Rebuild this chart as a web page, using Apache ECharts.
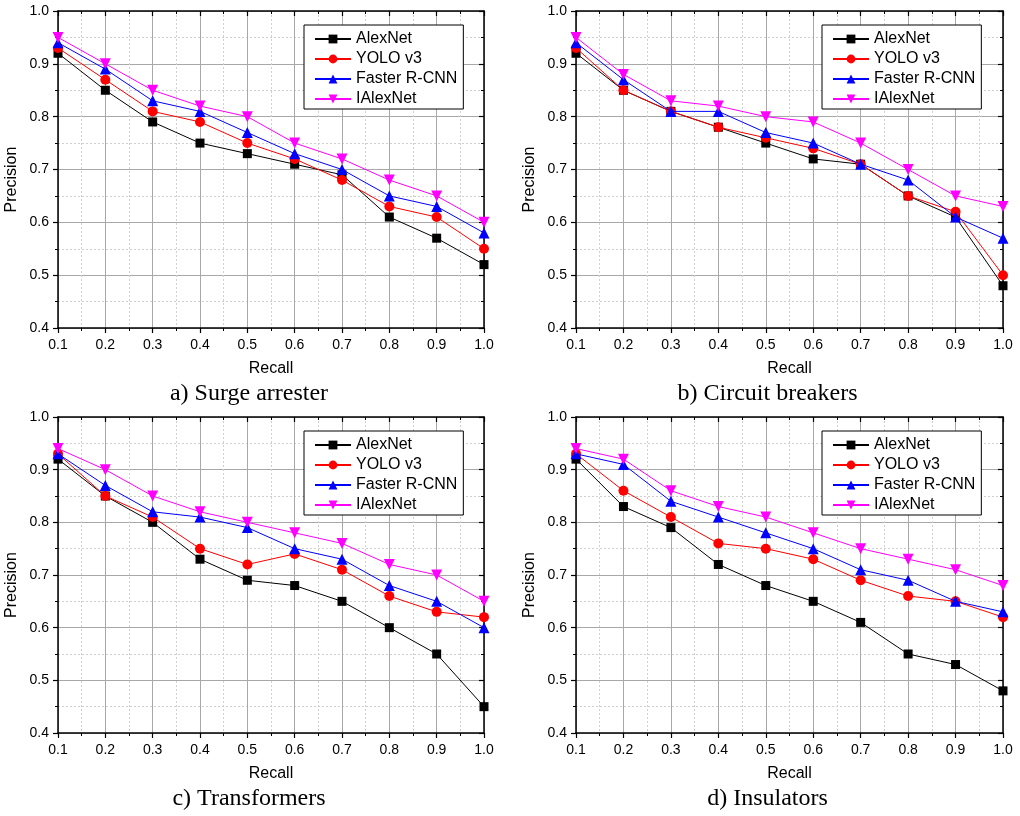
<!DOCTYPE html>
<html>
<head>
<meta charset="utf-8">
<script src="https://cdn.jsdelivr.net/npm/echarts@6/dist/echarts.min.js"></script>
<style>
  html, body { margin: 0; padding: 0; background: #fff; }
  #chart { width: 1020px; height: 816px; }
</style>
</head>
<body>
<div id="chart"></div>
<script>
// Recall levels shared by every panel
const recall = [0.1, 0.2, 0.3, 0.4, 0.5, 0.6, 0.7, 0.8, 0.9, 1.0];
const methods = ['AlexNet', 'YOLO v3', 'Faster R-CNN', 'IAlexNet'];
const panelTitles = ['a) Surge arrester', 'b) Circuit breakers', 'c) Transformers', 'd) Insulators'];

// a) Surge arrester
const surgeAlexNet = [0.92, 0.85, 0.79, 0.75, 0.73, 0.71, 0.69, 0.61, 0.57, 0.52];
const surgeYolo    = [0.93, 0.87, 0.81, 0.79, 0.75, 0.72, 0.68, 0.63, 0.61, 0.55];
const surgeFaster  = [0.94, 0.89, 0.83, 0.81, 0.77, 0.73, 0.70, 0.65, 0.63, 0.58];
const surgeIAlex   = [0.95, 0.90, 0.85, 0.82, 0.80, 0.75, 0.72, 0.68, 0.65, 0.60];

// b) Circuit breakers
const breakerAlexNet = [0.92, 0.85, 0.81, 0.78, 0.75, 0.72, 0.71, 0.65, 0.61, 0.48];
const breakerYolo    = [0.93, 0.85, 0.81, 0.78, 0.76, 0.74, 0.71, 0.65, 0.62, 0.50];
const breakerFaster  = [0.94, 0.87, 0.81, 0.81, 0.77, 0.75, 0.71, 0.68, 0.61, 0.57];
const breakerIAlex   = [0.95, 0.88, 0.83, 0.82, 0.80, 0.79, 0.75, 0.70, 0.65, 0.63];

// c) Transformers
const transAlexNet = [0.92, 0.85, 0.80, 0.73, 0.69, 0.68, 0.65, 0.60, 0.55, 0.45];
const transYolo    = [0.93, 0.85, 0.81, 0.75, 0.72, 0.74, 0.71, 0.66, 0.63, 0.62];
const transFaster  = [0.93, 0.87, 0.82, 0.81, 0.79, 0.75, 0.73, 0.68, 0.65, 0.60];
const transIAlex   = [0.94, 0.90, 0.85, 0.82, 0.80, 0.78, 0.76, 0.72, 0.70, 0.65];

// d) Insulators
const insAlexNet = [0.92, 0.83, 0.79, 0.72, 0.68, 0.65, 0.61, 0.55, 0.53, 0.48];
const insYolo    = [0.93, 0.86, 0.81, 0.76, 0.75, 0.73, 0.69, 0.66, 0.65, 0.62];
const insFaster  = [0.93, 0.91, 0.84, 0.81, 0.78, 0.75, 0.71, 0.69, 0.65, 0.63];
const insIAlex   = [0.94, 0.92, 0.86, 0.83, 0.81, 0.78, 0.75, 0.73, 0.71, 0.68];

const panelData = [
  [surgeAlexNet, surgeYolo, surgeFaster, surgeIAlex],
  [breakerAlexNet, breakerYolo, breakerFaster, breakerIAlex],
  [transAlexNet, transYolo, transFaster, transIAlex],
  [insAlexNet, insYolo, insFaster, insIAlex]
];

const colors = ['#000000', '#ff0000', '#0000ff', '#ff00ff'];
const symbols = ['rect', 'circle', 'triangle', 'path://M0,0 L10,0 L5,9 Z'];
const symbolSizes = [9, 10, 11, 11];

const rects = [
  { left: 58, top: 11, width: 426, height: 317 },
  { left: 576, top: 11, width: 427, height: 317 },
  { left: 58, top: 417, width: 426, height: 316 },
  { left: 576, top: 417, width: 427, height: 316 }
];

const sans = 'Liberation Sans, Arial, sans-serif';
const serif = 'Liberation Serif, Times New Roman, serif';
const fmt = v => (Math.round(v * 10) / 10).toFixed(1);

const grid = [], xAxis = [], yAxis = [], series = [], legend = [], graphic = [];

rects.forEach((r, i) => {
  grid.push({ left: r.left, top: r.top, width: r.width, height: r.height, containLabel: false });

  const axisLine = { show: true, onZero: false, lineStyle: { color: '#000', width: 1.5 } };
  const majorGrid = { show: true, lineStyle: { color: '#a8a8a8', width: 1, type: 'solid' } };
  const minorGrid = { show: true, lineStyle: { color: '#cfcfcf', width: 1, type: [2, 2] } };

  // bottom x axis with labels
  xAxis.push({
    type: 'value', gridIndex: i, position: 'bottom',
    min: 0.1, max: 1.0, interval: 0.1,
    name: 'Recall', nameLocation: 'middle', nameGap: 33,
    nameTextStyle: { fontFamily: sans, fontSize: 16, color: '#000' },
    axisLine,
    axisTick: { show: true, inside: false, length: 5, lineStyle: { color: '#000', width: 1.2 } },
    minorTick: { show: true, splitNumber: 2, length: 3, lineStyle: { color: '#000', width: 1 } },
    axisLabel: { fontFamily: sans, fontSize: 14, color: '#000', margin: 10, formatter: fmt },
    splitLine: majorGrid,
    minorSplitLine: minorGrid
  });
  // top frame axis
  xAxis.push({
    type: 'value', gridIndex: i, position: 'top',
    min: 0.1, max: 1.0, interval: 0.1,
    axisLine,
    axisTick: { show: true, inside: true, length: 5, lineStyle: { color: '#000', width: 1.2 } },
    minorTick: { show: true, splitNumber: 2, length: 3, lineStyle: { color: '#000', width: 1 } },
    axisLabel: { show: false },
    splitLine: { show: false }
  });
  // left y axis with labels
  yAxis.push({
    type: 'value', gridIndex: i, position: 'left',
    min: 0.4, max: 1.0, interval: 0.1,
    axisLine,
    axisTick: { show: true, inside: false, length: 5, lineStyle: { color: '#000', width: 1.2 } },
    minorTick: { show: true, splitNumber: 2, length: 3, lineStyle: { color: '#000', width: 1 } },
    axisLabel: { fontFamily: sans, fontSize: 14, color: '#000', margin: 9, formatter: fmt },
    splitLine: majorGrid,
    minorSplitLine: minorGrid
  });
  // right frame axis
  yAxis.push({
    type: 'value', gridIndex: i, position: 'right',
    min: 0.4, max: 1.0, interval: 0.1,
    axisLine,
    axisTick: { show: true, inside: true, length: 5, lineStyle: { color: '#000', width: 1.2 } },
    minorTick: { show: true, splitNumber: 2, length: 3, lineStyle: { color: '#000', width: 1 } },
    axisLabel: { show: false },
    splitLine: { show: false }
  });

  methods.forEach((m, k) => {
    series.push({
      type: 'line', name: m,
      xAxisIndex: i * 2, yAxisIndex: i * 2,
      data: recall.map((x, j) => [x, panelData[i][k][j]]),
      symbol: symbols[k], symbolSize: symbolSizes[k],
      itemStyle: { color: colors[k] },
      lineStyle: { color: colors[k], width: 1 },
      clip: true, z: 3 + k,
      animation: false
    });
  });

  legend.push({
    orient: 'vertical',
    left: r.left + 246, top: r.top + 14,
    width: 159,
    padding: [5, 6, 1, 10],
    itemGap: 2, itemWidth: 36, itemHeight: 11,
    borderColor: '#000', borderWidth: 1, backgroundColor: '#fff',
    textStyle: { fontFamily: sans, fontSize: 16, lineHeight: 18, color: '#000' },
    data: methods
  });

  // y axis title, placed by hand so it can sit slightly below the plot centre
  graphic.push({
    type: 'text',
    x: r.left - 46, y: r.top + r.height / 2 + 10,
    rotation: Math.PI / 2,
    style: { text: 'Precision', font: '16px ' + sans, fill: '#000', textAlign: 'center', textVerticalAlign: 'middle' }
  });

  // panel caption
  graphic.push({
    type: 'text',
    x: r.left + r.width / 2 - 22, y: r.top + r.height + 66,
    style: { text: panelTitles[i], font: '24px ' + serif, fill: '#000', textAlign: 'center', textVerticalAlign: 'middle' }
  });
});

const chart = echarts.init(document.getElementById('chart'), null, { renderer: 'canvas' });
chart.setOption({
  backgroundColor: '#fff',
  animation: false,
  grid, xAxis, yAxis, series, legend, graphic
});
</script>
</body>
</html>
